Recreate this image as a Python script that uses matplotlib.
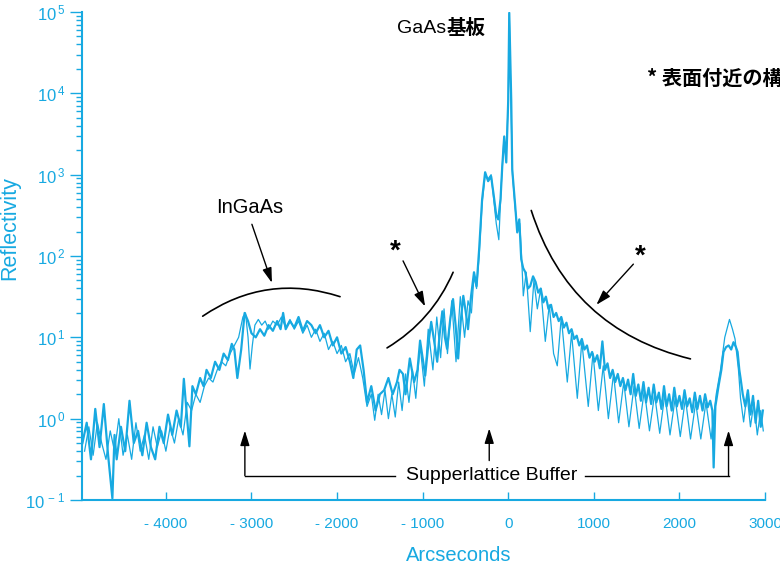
import numpy as np
import matplotlib
matplotlib.use('Agg')
import matplotlib.pyplot as plt
from matplotlib.patches import FancyArrowPatch
from matplotlib.ticker import FixedLocator, FixedFormatter, LogLocator, NullFormatter

# ---------------- data ----------------
# measured rocking curve: x in arcseconds, y as log10(reflectivity)
meas_x = [-4975, -4925, -4875, -4825, -4775, -4725, -4675, -4625, -4600, -4575, -4525, -4475, -4425, -4375,
          -4325, -4275, -4225, -4175, -4125, -4075, -4025, -3975, -3925, -3875, -3825, -3790, -3760, -3725,
          -3690, -3650, -3600, -3560, -3525, -3475, -3425, -3375, -3325, -3275, -3230, -3200, -3165, -3120,
          -3080, -3040, -3000, -2950, -2900, -2850, -2800, -2750, -2700, -2660, -2630, -2600, -2550, -2500,
          -2450, -2400, -2350, -2300, -2250, -2200, -2150, -2100, -2050, -2000, -1950, -1900, -1850, -1810,
          -1770, -1730, -1690, -1650, -1600, -1550, -1500, -1450, -1400, -1350, -1300, -1270, -1230, -1200,
          -1150, -1100, -1060, -1030, -970, -935, -900, -865, -830, -800, -770, -740, -715, -680, -645, -615,
          -585, -555, -525, -495, -470, -435, -400, -370, -340, -305, -270, -235, -200, -170, -140, -117,
          -90, -70, -47, -23, 0, 12, 35, 47, 82, 105, 129, 152, 175, 200, 230, 257, 290, 320, 350, 380, 410,
          440, 470, 500, 530, 560, 590, 620, 650, 680, 710, 740, 770, 800, 830, 860, 890, 920, 950, 980,
          1010, 1040, 1070, 1100, 1130, 1160, 1190, 1220, 1250, 1280, 1310, 1340, 1370, 1400, 1430, 1460,
          1490, 1520, 1550, 1580, 1610, 1640, 1670, 1700, 1730, 1760, 1790, 1820, 1850, 1880, 1910, 1940,
          1970, 2000, 2030, 2060, 2090, 2120, 2150, 2180, 2210, 2240, 2270, 2300, 2330, 2360, 2385, 2400,
          2420, 2457, 2490, 2515, 2545, 2575, 2605, 2632, 2660, 2680, 2700, 2714, 2740, 2770, 2800, 2830,
          2860, 2890, 2920, 2950, 2975]
meas_log10_refl = [-0.3, -0.05, -0.5, 0.12, -0.35, 0.18, -0.45, -0.98, -0.2, -0.5, -0.1, -0.4, 0.22, -0.3,
                   -0.15, -0.45, -0.05, -0.35, -0.5, -0.1, -0.3, 0.05, -0.2, 0.1, -0.1, 0.49, 0.1, -0.34,
                   0.4, 0.3, 0.5, 0.4, 0.6, 0.5, 0.7, 0.6, 0.8, 0.72, 0.92, 0.85, 0.5, 0.85,
                   1.3, 1.2, 1.05, 1.0, 1.1, 1.02, 1.15, 1.08, 1.2, 1.1, 1.3, 1.1, 1.2, 1.12,
                   1.25, 1.08, 1.2, 1.15, 1.05, 1.15, 1.0, 1.08, 0.9, 1.0, 0.8, 0.88, 0.7, 0.5,
                   0.85, 0.9, 0.6, 0.2, 0.4, 0.1, 0.3, 0.35, 0.5, 0.3, 0.45, 0.6, 0.55, 0.3,
                   0.74, 0.45, 0.6, 0.96, 0.53, 0.9, 1.19, 0.95, 0.7, 1.05, 1.32, 1.0, 0.86, 1.2, 1.47, 1.15,
                   0.74, 1.2, 1.51, 1.3, 1.1, 1.5, 1.8, 1.63, 2.08, 2.7, 3.03, 2.92, 2.98, 2.75, 2.5, 2.45,
                   2.7, 3.1, 3.47, 3.15, 3.92, 4.99, 3.92, 3.06, 2.61, 2.29, 2.45, 1.96, 1.85, 1.8, 1.6, 1.63,
                   1.75, 1.68, 1.55, 1.6, 1.43,
                   1.5, 1.35, 1.4, 1.25, 1.3, 1.2, 1.25, 1.12, 1.18, 1.05, 1.1, 0.98, 1.02, 0.9, 0.98, 0.85,
                   0.9, 0.75, 0.82,
                   0.7, 0.78, 0.62, 0.95, 0.6, 0.68, 0.5, 0.6, 0.45, 0.55, 0.4, 0.5, 0.35, 0.48, 0.3, 0.55,
                   0.28, 0.42, 0.22, 0.45, 0.2, 0.38, 0.18, 0.42, 0.2, 0.32, 0.12, 0.4, 0.15, 0.3, 0.1, 0.38,
                   0.15, 0.28, 0.12, 0.35, 0.15, 0.25, 0.08, 0.32, 0.12, 0.28, 0.1, 0.3, 0.14, 0.22, 0.1, -0.6,
                   0.15, 0.4, 0.6, 0.82, 0.88, 0.9, 0.85, 0.94, 0.88, 0.82, 0.6, 0.5, 0.3, 0.15, 0.35, 0.05,
                   0.28, -0.05, 0.22, -0.1, 0.1]

# simulated rocking curve
sim_x = [-4950, -4900, -4850, -4800, -4750, -4700, -4650, -4600, -4550, -4500, -4450, -4400, -4350, -4300,
         -4250, -4200, -4150, -4100, -4050, -4000, -3950, -3900, -3850, -3800, -3750, -3700, -3650, -3600,
         -3550, -3500, -3450, -3400, -3350, -3300, -3250, -3200, -3150, -3100, -3070, -3040, -3017, -2990,
         -2960, -2920, -2880, -2840, -2800, -2750, -2700, -2650, -2600, -2550, -2500, -2450, -2400, -2350,
         -2300, -2250, -2200, -2150, -2100, -2050, -2000, -1950, -1900, -1850, -1800, -1750, -1700, -1650,
         -1600, -1560, -1520, -1480, -1440, -1400, -1360, -1320, -1280, -1240, -1200, -1160, -1120, -1080,
         -1030, -980, -935, -880, -835, -790, -750, -710, -660, -610, -560, -510, -470, -430, -400, -370,
         -340, -305, -270, -235, -200, -170, -140, -110, -80, -50, -25, 0, 12, 30, 50, 80, 110, 135, 160,
         176, 210, 257, 300, 340, 380, 433, 480, 530, 573, 620, 690, 740, 807, 860, 935, 990, 1053, 1110,
         1170, 1230, 1290, 1350, 1410, 1470, 1530, 1590, 1650, 1710, 1770, 1830, 1890, 1950, 2010, 2070,
         2130, 2190, 2250, 2310, 2370, 2430, 2480, 2530, 2585, 2620, 2650, 2690, 2714, 2750, 2790, 2830,
         2870, 2910, 2950, 2980]
sim_log10_refl = [-0.4, -0.1, -0.45, -0.05, -0.3, -0.5, -0.15, -0.4, 0.0, -0.45, -0.2, -0.5, -0.05, -0.4,
                  -0.2, -0.5, -0.1, -0.35, -0.15, -0.4, -0.1, -0.3, 0.0, -0.2, 0.2, 0.1, 0.3, 0.2,
                  0.4, 0.5, 0.45, 0.6, 0.7, 0.65, 0.8, 0.9, 1.0, 1.25, 1.3, 1.0, 0.61, 0.9,
                  1.15, 1.22, 1.15, 1.2, 1.1, 1.2, 1.15, 1.25, 1.12, 1.22, 1.1, 1.2, 1.05, 1.15,
                  1.0, 1.1, 0.95, 1.05, 0.85, 0.95, 0.8, 0.9, 0.7, 0.8, 0.55, 0.75, 0.5, 0.15,
                  0.3, -0.02, 0.3, 0.05, 0.35, 0.0, 0.3, 0.02, 0.45, 0.1, 0.55, 0.2, 0.6, 0.25,
                  0.9, 0.4, 1.1, 0.6, 1.25, 0.75, 1.35, 0.8, 1.45, 0.7, 1.5, 1.0, 1.45, 1.3, 1.75, 1.6,
                  2.0, 2.65, 3.0, 2.95, 3.0, 2.7, 2.4, 2.2, 2.9, 3.45, 3.2, 3.9, 4.98, 3.95, 3.0, 2.6, 2.3, 2.4, 1.9,
                  1.51, 1.8, 1.07, 1.7, 1.35, 1.6, 0.95, 1.4, 0.8, 0.65, 1.25, 0.45, 1.05, 0.25, 0.95, 0.15, 0.8, 0.1, 0.65,
                  0.0, 0.55, -0.05, 0.45, -0.1, 0.4, -0.12, 0.35, -0.15, 0.3, -0.18, 0.3, -0.2, 0.25, -0.22, 0.25,
                  -0.25, 0.2, -0.25, 0.2, -0.25, 0.3, 0.6, 1.0, 1.22, 1.1, 0.98, 0.6, 0.25, -0.04, 0.3, -0.1,
                  0.2, -0.2, 0.1, -0.15]

x_ticks = [-4000, -3000, -2000, -1000, 0, 1000, 2000, 3000]
x_tick_labels = ['- 4000', '- 3000', '- 2000', '- 1000', '0', '1000', '2000', '3000']
y_ticks = [1e-1, 1e0, 1e1, 1e2, 1e3, 1e4, 1e5]
y_tick_labels = [r'$\mathregular{10^{\,-\,1}}$', r'$\mathregular{10^{\,0}}$', r'$\mathregular{10^{\,1}}$',
                 r'$\mathregular{10^{\,2}}$', r'$\mathregular{10^{\,3}}$', r'$\mathregular{10^{\,4}}$',
                 r'$\mathregular{10^{\,5}}$']

# ---------------- style ----------------
plt.rcParams['font.family'] = ['Liberation Sans', 'DejaVu Sans']
plt.rcParams['mathtext.fontset'] = 'custom'
plt.rcParams['mathtext.rm'] = 'Liberation Sans'
plt.rcParams['mathtext.it'] = 'Liberation Sans'
plt.rcParams['mathtext.bf'] = 'Liberation Sans:bold'

CYAN = '#17A9E1'
CJK = ['Noto Sans CJK JP', 'DejaVu Sans']

fig = plt.figure(figsize=(7.8, 5.67), dpi=100)
ax = fig.add_axes([82 / 780, 67 / 567, 683 / 780, 488 / 567])

ax.plot(sim_x, 10 ** np.array(sim_log10_refl), color=CYAN, lw=0.9)
ax.plot(meas_x, 10 ** np.array(meas_log10_refl), color=CYAN, lw=1.6)

ax.set_yscale('log')
ax.set_xlim(-4980, 3000)
ax.set_ylim(0.1, 1e5)

for s in ['top', 'right']:
    ax.spines[s].set_visible(False)
for s in ['left', 'bottom']:
    ax.spines[s].set_color(CYAN)
    ax.spines[s].set_linewidth(1.5)

ax.xaxis.set_major_locator(FixedLocator(x_ticks))
ax.xaxis.set_major_formatter(FixedFormatter(x_tick_labels))
ax.yaxis.set_major_locator(FixedLocator(y_ticks))
ax.yaxis.set_major_formatter(FixedFormatter(y_tick_labels))
ax.yaxis.set_minor_locator(LogLocator(base=10, subs=np.arange(2, 10), numticks=20))
ax.yaxis.set_minor_formatter(NullFormatter())

ax.tick_params(axis='x', direction='in', length=6, width=1, color=CYAN, labelcolor=CYAN,
               labelsize=11, pad=12)
ax.tick_params(axis='y', which='major', direction='out', length=9, width=1, color=CYAN,
               labelcolor=CYAN, labelsize=12, pad=3)
ax.tick_params(axis='y', which='minor', direction='out', length=4.5, width=1, color=CYAN)

ax.set_ylabel('Reflectivity', color=CYAN, fontsize=15.5)
ax.yaxis.set_label_coords(-0.09, 0.557)
ax.set_xlabel('Arcseconds', color=CYAN, fontsize=14.5)
ax.xaxis.set_label_coords(0.552, -0.095)

# ---------------- annotations ----------------
def arrow(start, end, lw=1.0):
    ax.annotate('', xy=end, xytext=start,
                arrowprops=dict(arrowstyle='-|>,head_length=0.9,head_width=0.28', color='black',
                                lw=lw, shrinkA=0, shrinkB=0, mutation_scale=10))

def arc(start, end, rad):
    p = FancyArrowPatch(start, end, connectionstyle=f'arc3,rad={rad}', arrowstyle='-',
                        color='black', lw=1.2, shrinkA=0, shrinkB=0, transform=ax.transData)
    ax.add_patch(p)

ax.text(-725, 10 ** 4.80, 'GaAs', fontsize=14, ha='right', va='center', color='black')
ax.text(-725, 10 ** 4.80, '基板', fontsize=14, ha='left', va='center', color='black',
        family=CJK, fontweight='bold')
ax.text(1626, 10 ** 4.19, '* 表面付近の構造', fontsize=14.5, ha='left', va='center', color='black',
        family=CJK, fontweight='bold')

ax.text(-3019, 10 ** 2.60, 'InGaAs', fontsize=14.5, ha='center', va='center', color='black')
arrow((-2995, 10 ** 2.39), (-2761, 10 ** 1.67))
arc((-3570, 10 ** 1.26), (-1965, 10 ** 1.50), -0.245)

ax.text(-1322, 10 ** 2.05, '*', fontsize=20, fontweight='bold', ha='center', va='center', color='black')
arrow((-1229, 10 ** 1.94), (-971, 10 ** 1.38))
arc((-1416, 10 ** 0.87), (-644, 10 ** 1.80), 0.16)

ax.text(1544, 10 ** 1.99, '*', fontsize=20, fontweight='bold', ha='center', va='center', color='black')
arrow((1462, 10 ** 1.90), (1030, 10 ** 1.40))
arc((269, 10 ** 2.56), (2129, 10 ** 0.735), 0.28)

ax.text(-199, 10 ** -0.70, 'Supperlattice Buffer', fontsize=14, ha='center', va='center', color='black')
ax.plot([-3077, -1322], [10 ** -0.70, 10 ** -0.70], color='black', lw=1)
ax.plot([901, 2574], [10 ** -0.70, 10 ** -0.70], color='black', lw=1)
arrow((-3077, 10 ** -0.70), (-3077, 10 ** -0.147))
arrow((2574, 10 ** -0.70), (2574, 10 ** -0.147))
arrow((-222, 10 ** -0.515), (-222, 10 ** -0.12))

fig.savefig('out.png', dpi=100)
